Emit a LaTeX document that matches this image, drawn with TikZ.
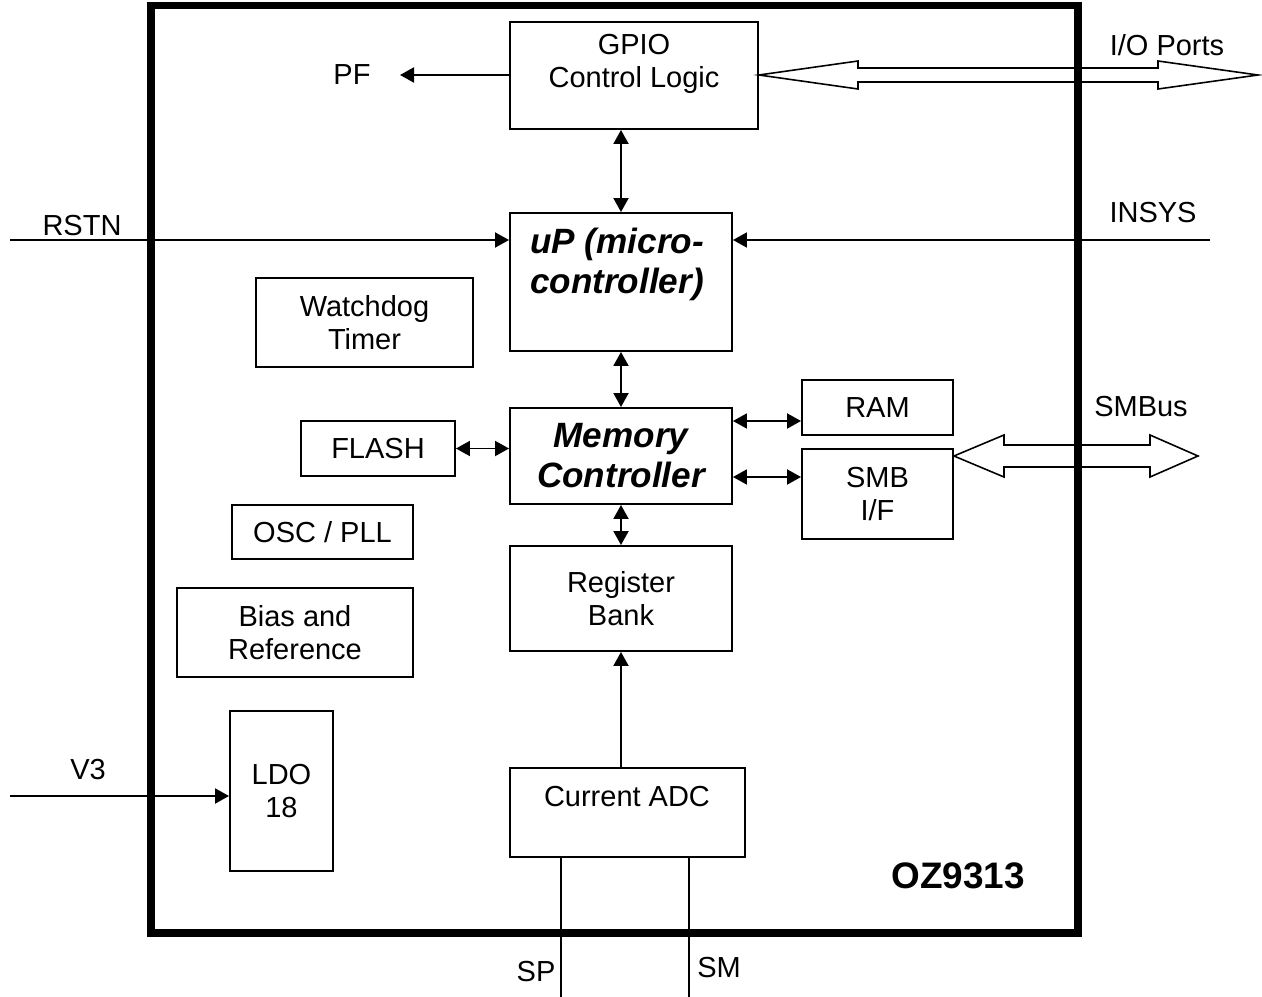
\documentclass[tikz,border=0pt]{standalone}
\usepackage{fontspec}
\setmainfont{Liberation Sans}
\usetikzlibrary{arrows.meta,fit,calc}
\begin{document}
\begin{tikzpicture}[x=0.02cm,y=-0.02cm,
  txt/.style={inner sep=0pt, align=center, font=\fontsize{16.5}{19}\selectfont},
  box/.style={txt, draw, line width=1.1pt},
  sz/.style 2 args={minimum width=#1*0.02cm, minimum height=#2*0.02cm},
  big/.style={inner sep=0pt, align=center, font=\fontsize{20}{22.7}\selectfont\bfseries\itshape},
  con/.style={line width=1.1pt},
  arr/.style={con, -{Triangle[length=0.28cm,width=0.3cm]}},
  darr/.style={con, {Triangle[length=0.28cm,width=0.3cm]}-{Triangle[length=0.28cm,width=0.3cm]}},
  hollow/.style={line width=0.9pt, line join=miter}]
\useasboundingbox (0,0) rectangle (1262,997);

% blocks
\node[box, sz={248}{107}] (gpio) at (634,75.5) {};
\node[txt] (gpiot) at (634,64) {GPIO\\Control Logic};
\node[box, sz={222}{138}] (up) at (621,282) {};
\node[big] (upt) at (617,264) {uP (micro-\\controller)};
\node[box, sz={217}{89}] (wd) at (364.5,322.5) {Watchdog\\Timer};
\node[box, big, sz={222}{96}] (mem) at (621,456) {Memory\\Controller};
\node[box, sz={151}{55}] (ram) at (877.5,407.5) {RAM};
\node[box, sz={151}{90}] (smb) at (877.5,494) {SMB\\I/F};
\node[box, sz={154}{55}] (flash) at (378,448.5) {FLASH};
\node[box, sz={181}{54}] (osc) at (322.5,532) {OSC / PLL};
\node[box, sz={236}{89}] (bias) at (295,632.5) {Bias and\\Reference};
\node[box, sz={222}{105}] (reg) at (621,598.5) {Register\\Bank};
\node[box, sz={103}{160}] (ldo) at (281.5,791) {LDO\\18};
\node[box, sz={235}{89}] (adc) at (627.5,812.5) {};
\node[txt] (adct) at (627,797) {Current ADC};

% labels
\node[txt] (pf) at (352,75) {PF};
\node[txt] (rstnl) at (82,226) {RSTN};
\node[txt] (insysl) at (1153,213) {INSYS};
\node[txt] (v3l) at (88,770) {V3};
\node[txt] (spl) at (536,972) {SP};
\node[txt] (sml) at (719,968) {SM};
\node[txt] (iol) at (1167,45) {I/O Ports};
\node[txt] (smbl) at (1141,407) {SMBus};
\node[inner sep=0pt, font=\fontsize{21}{24}\selectfont\bfseries] (oz) at (958,876) {OZ9313};

% internal connectors
\draw[darr] (gpio.south -| up.north) -- (up.north);
\draw[darr] (up.south) -- (mem.north);
\draw[darr] (mem.south) -- (reg.north);
\draw[arr] (adc.north -| reg.south) -- (reg.south);
\draw[darr] (flash.east) -- (flash.east -| mem.west);
\coordinate (a1) at (mem.east |- 0,421);
\draw[darr] (a1) -- (a1 -| ram.west);
\coordinate (a2) at (mem.east |- 0,477);
\draw[darr] (a2) -- (a2 -| smb.west);

% external signals
\coordinate (pfend) at (400,75);
\draw[arr] (gpio.west |- pfend) -- (pfend);
\coordinate (rstn) at (10,240);
\draw[arr] (rstn) -- (rstn -| up.west);
\coordinate (insys) at (1210,240);
\draw[arr] (insys) -- (insys -| up.east);
\coordinate (v3) at (10,796);
\draw[arr] (v3) -- (v3 -| ldo.west);
\coordinate (sp) at (561,997);
\draw[con] (adc.south -| sp) -- (sp);
\coordinate (sm) at (689,997);
\draw[con] (adc.south -| sm) -- (sm);

% hollow bus arrows
\coordinate (iolt) at (gpio.east |- 0,75);
\coordinate (iort) at (1258,75);
\draw[hollow] (iolt) -- ++(99,-14) -- ++(0,7) -- ($(iort)+(-100,-7)$) -- ++(0,-7) -- (iort)
  -- ++(-100,14) -- ++(0,-7) -- ($(iolt)+(99,7)$) -- ++(0,7) -- cycle;
\coordinate (smlt) at (smb.east |- 0,456);
\coordinate (smrt) at (1198,456);
\draw[hollow] (smlt) -- ++(50,-21) -- ++(0,10) -- ($(smrt)+(-48,-11)$) -- ++(0,-10) -- (smrt)
  -- ++(-48,21) -- ++(0,-10) -- ($(smlt)+(50,11)$) -- ++(0,10) -- cycle;

% chip outline
\node[draw, line width=4.5pt, inner sep=0pt, fit={(151,5.5) (1078,933)}] (chip) {};
\end{tikzpicture}
\end{document}
